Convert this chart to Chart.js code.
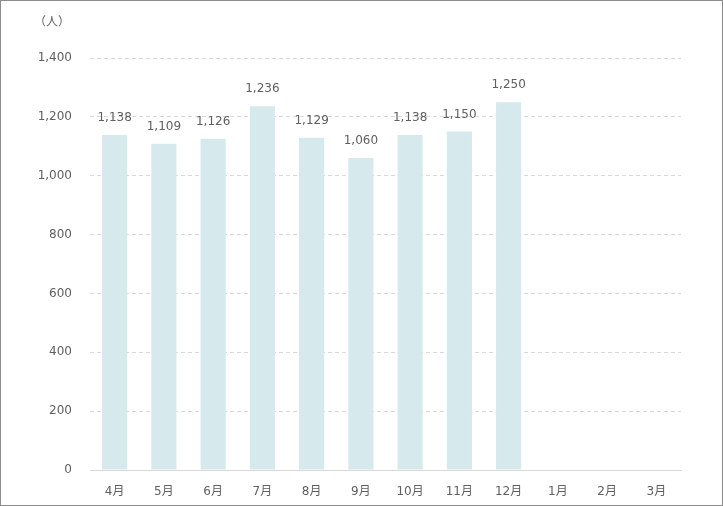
<!DOCTYPE html>
<html>
<head>
<meta charset="utf-8">
<script src="https://cdn.jsdelivr.net/npm/chart.js@4"></script>
<style>
  html, body { margin: 0; padding: 0; background: #fff; }
  #wrap { width: 723px; height: 506px; }
</style>
</head>
<body>
<div id="wrap"><canvas id="c" width="723" height="506"></canvas></div>
<script>
const months = ['4月', '5月', '6月', '7月', '8月', '9月', '10月', '11月', '12月', '1月', '2月', '3月'];
const visitors = [1138, 1109, 1126, 1236, 1129, 1060, 1138, 1150, 1250, null, null, null];
const yTicks = [0, 200, 400, 600, 800, 1000, 1200, 1400];

const FONT = '"DejaVu Sans", "Noto Sans CJK JP", sans-serif';
const TEXT = '#606060';

// value labels above bars + unit label + frame
const extras = {
  id: 'extras',
  afterDatasetsDraw(chart) {
    const ctx = chart.ctx;
    const meta = chart.getDatasetMeta(0);
    ctx.save();
    ctx.font = '12px ' + FONT;
    ctx.fillStyle = TEXT;
    ctx.textAlign = 'center';
    ctx.textBaseline = 'middle';
    meta.data.forEach((bar, i) => {
      const v = visitors[i];
      if (v == null) return;
      ctx.fillText(v.toLocaleString('en-US'), bar.x, bar.y - 17);
    });
    ctx.textAlign = 'left';
    ctx.fillText('（人）', 34, 23);
    ctx.strokeStyle = '#8c8c8c';
    ctx.lineWidth = 1;
    ctx.strokeRect(0.5, 0.5, chart.width - 1, chart.height - 1);
    ctx.restore();
  }
};

new Chart(document.getElementById('c'), {
  type: 'bar',
  data: {
    labels: months,
    datasets: [{
      data: visitors,
      backgroundColor: '#d6e9ec',
      categoryPercentage: 1,
      barPercentage: 0.51,
    }],
  },
  options: {
    responsive: false,
    animation: false,
    layout: { padding: { top: 58, right: 42, left: 0, bottom: 0 } },
    scales: {
      x: {
        grid: { display: false },
        border: { display: true, color: '#d9d9d9' },
        ticks: { color: TEXT, font: { family: FONT, size: 12 }, padding: 7, maxRotation: 0 },
        afterFit: (s) => { s.height = 36; },
      },
      y: {
        min: 0,
        max: 1400,
        afterBuildTicks: (s) => { s.ticks = yTicks.map(v => ({ value: v })); },
        grid: { color: '#d9d9d9', drawTicks: false },
        border: { display: false, dash: [4, 3] },
        ticks: {
          color: TEXT,
          font: { family: FONT, size: 12 },
          padding: 18,
          callback: (v) => v.toLocaleString('en-US'),
        },
        afterFit: (s) => { s.width = 90; },
      },
    },
    plugins: {
      legend: { display: false },
      tooltip: { enabled: false },
    },
  },
  plugins: [extras],
});
</script>
</body>
</html>
